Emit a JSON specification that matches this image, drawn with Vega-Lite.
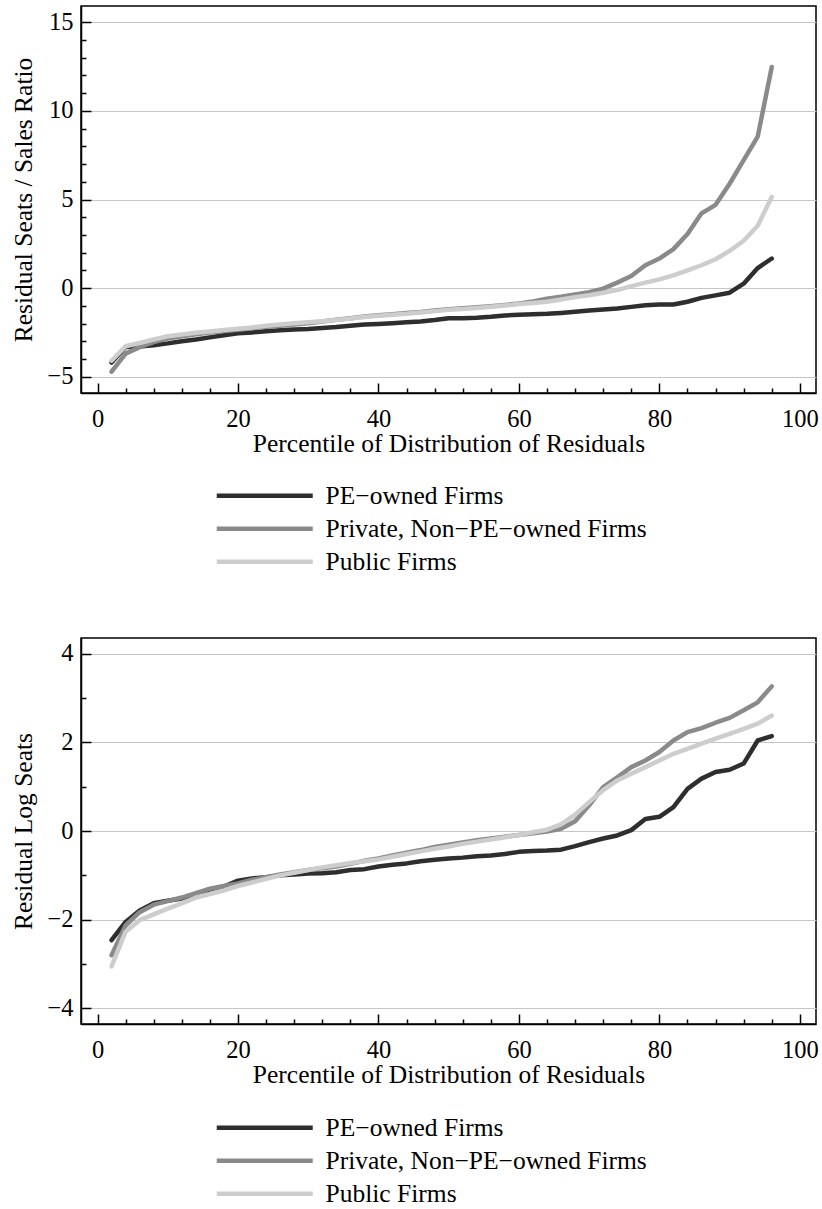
{
  "$schema": "https://vega.github.io/schema/vega-lite/v6.json",
  "padding": {"left": 11, "top": 5, "right": 0, "bottom": 0},
  "background": "white",
  "config": {
    "font": "Liberation Serif",
    "view": {"stroke": "black", "strokeWidth": 1.5},
    "axis": {"labelFont": "Liberation Serif", "titleFont": "Liberation Serif", "labelFontSize": 24.5, "titleFontSize": 25.5, "titleFontWeight": "normal", "labelColor": "black", "titleColor": "black", "domainColor": "black", "domainWidth": 1.5, "tickColor": "black", "tickWidth": 1.5, "gridColor": "#c6c6c6", "gridWidth": 1.2, "labelOverlap": false, "labelFlush": false},
    "legend": {"orient": "none", "title": null, "symbolType": "M-9.6,0H9.6", "symbolSize": 100, "symbolStrokeWidth": 5, "labelFont": "Liberation Serif", "labelFontSize": 25.5, "labelColor": "black", "labelLimit": 0, "rowPadding": 6, "labelOffset": 48},
    "line": {"strokeWidth": 4.5, "strokeCap": "round", "strokeJoin": "round"}
  },
  "resolve": {"scale": {"color": "independent", "x": "independent", "y": "independent"}, "legend": {"color": "independent"}},
  "spacing": 60,
  "datasets": {
    "seats_sales": [
      {"p":2,"g":"PE−owned Firms","v":-4.2},{"p":4,"g":"PE−owned Firms","v":-3.33},{"p":6,"g":"PE−owned Firms","v":-3.3},{"p":8,"g":"PE−owned Firms","v":-3.22},{"p":10,"g":"PE−owned Firms","v":-3.12},{"p":12,"g":"PE−owned Firms","v":-3.0},{"p":14,"g":"PE−owned Firms","v":-2.9},{"p":16,"g":"PE−owned Firms","v":-2.78},{"p":18,"g":"PE−owned Firms","v":-2.66},{"p":20,"g":"PE−owned Firms","v":-2.55},{"p":22,"g":"PE−owned Firms","v":-2.5},{"p":24,"g":"PE−owned Firms","v":-2.44},{"p":26,"g":"PE−owned Firms","v":-2.38},{"p":28,"g":"PE−owned Firms","v":-2.33},{"p":30,"g":"PE−owned Firms","v":-2.31},{"p":32,"g":"PE−owned Firms","v":-2.25},{"p":34,"g":"PE−owned Firms","v":-2.2},{"p":36,"g":"PE−owned Firms","v":-2.13},{"p":38,"g":"PE−owned Firms","v":-2.06},{"p":40,"g":"PE−owned Firms","v":-2.02},{"p":42,"g":"PE−owned Firms","v":-1.98},{"p":44,"g":"PE−owned Firms","v":-1.93},{"p":46,"g":"PE−owned Firms","v":-1.88},{"p":48,"g":"PE−owned Firms","v":-1.8},{"p":50,"g":"PE−owned Firms","v":-1.7},{"p":52,"g":"PE−owned Firms","v":-1.7},{"p":54,"g":"PE−owned Firms","v":-1.67},{"p":56,"g":"PE−owned Firms","v":-1.62},{"p":58,"g":"PE−owned Firms","v":-1.55},{"p":60,"g":"PE−owned Firms","v":-1.5},{"p":62,"g":"PE−owned Firms","v":-1.47},{"p":64,"g":"PE−owned Firms","v":-1.45},{"p":66,"g":"PE−owned Firms","v":-1.4},{"p":68,"g":"PE−owned Firms","v":-1.34},{"p":70,"g":"PE−owned Firms","v":-1.27},{"p":72,"g":"PE−owned Firms","v":-1.21},{"p":74,"g":"PE−owned Firms","v":-1.15},{"p":76,"g":"PE−owned Firms","v":-1.06},{"p":78,"g":"PE−owned Firms","v":-0.97},{"p":80,"g":"PE−owned Firms","v":-0.93},{"p":82,"g":"PE−owned Firms","v":-0.93},{"p":84,"g":"PE−owned Firms","v":-0.77},{"p":86,"g":"PE−owned Firms","v":-0.55},{"p":88,"g":"PE−owned Firms","v":-0.41},{"p":90,"g":"PE−owned Firms","v":-0.26},{"p":92,"g":"PE−owned Firms","v":0.25},{"p":94,"g":"PE−owned Firms","v":1.13},{"p":96,"g":"PE−owned Firms","v":1.67},
      {"p":2,"g":"Private, Non−PE−owned Firms","v":-4.72},{"p":4,"g":"Private, Non−PE−owned Firms","v":-3.7},{"p":6,"g":"Private, Non−PE−owned Firms","v":-3.33},{"p":8,"g":"Private, Non−PE−owned Firms","v":-3.05},{"p":10,"g":"Private, Non−PE−owned Firms","v":-2.85},{"p":12,"g":"Private, Non−PE−owned Firms","v":-2.72},{"p":14,"g":"Private, Non−PE−owned Firms","v":-2.6},{"p":16,"g":"Private, Non−PE−owned Firms","v":-2.5},{"p":18,"g":"Private, Non−PE−owned Firms","v":-2.42},{"p":20,"g":"Private, Non−PE−owned Firms","v":-2.35},{"p":22,"g":"Private, Non−PE−owned Firms","v":-2.27},{"p":24,"g":"Private, Non−PE−owned Firms","v":-2.18},{"p":26,"g":"Private, Non−PE−owned Firms","v":-2.12},{"p":28,"g":"Private, Non−PE−owned Firms","v":-2.05},{"p":30,"g":"Private, Non−PE−owned Firms","v":-1.98},{"p":32,"g":"Private, Non−PE−owned Firms","v":-1.89},{"p":34,"g":"Private, Non−PE−owned Firms","v":-1.79},{"p":36,"g":"Private, Non−PE−owned Firms","v":-1.7},{"p":38,"g":"Private, Non−PE−owned Firms","v":-1.6},{"p":40,"g":"Private, Non−PE−owned Firms","v":-1.53},{"p":42,"g":"Private, Non−PE−owned Firms","v":-1.47},{"p":44,"g":"Private, Non−PE−owned Firms","v":-1.41},{"p":46,"g":"Private, Non−PE−owned Firms","v":-1.35},{"p":48,"g":"Private, Non−PE−owned Firms","v":-1.27},{"p":50,"g":"Private, Non−PE−owned Firms","v":-1.19},{"p":52,"g":"Private, Non−PE−owned Firms","v":-1.14},{"p":54,"g":"Private, Non−PE−owned Firms","v":-1.08},{"p":56,"g":"Private, Non−PE−owned Firms","v":-1.02},{"p":58,"g":"Private, Non−PE−owned Firms","v":-0.95},{"p":60,"g":"Private, Non−PE−owned Firms","v":-0.87},{"p":62,"g":"Private, Non−PE−owned Firms","v":-0.76},{"p":64,"g":"Private, Non−PE−owned Firms","v":-0.6},{"p":66,"g":"Private, Non−PE−owned Firms","v":-0.49},{"p":68,"g":"Private, Non−PE−owned Firms","v":-0.36},{"p":70,"g":"Private, Non−PE−owned Firms","v":-0.23},{"p":72,"g":"Private, Non−PE−owned Firms","v":-0.03},{"p":74,"g":"Private, Non−PE−owned Firms","v":0.31},{"p":76,"g":"Private, Non−PE−owned Firms","v":0.68},{"p":78,"g":"Private, Non−PE−owned Firms","v":1.29},{"p":80,"g":"Private, Non−PE−owned Firms","v":1.67},{"p":82,"g":"Private, Non−PE−owned Firms","v":2.2},{"p":84,"g":"Private, Non−PE−owned Firms","v":3.05},{"p":86,"g":"Private, Non−PE−owned Firms","v":4.22},{"p":88,"g":"Private, Non−PE−owned Firms","v":4.7},{"p":90,"g":"Private, Non−PE−owned Firms","v":5.89},{"p":92,"g":"Private, Non−PE−owned Firms","v":7.22},{"p":94,"g":"Private, Non−PE−owned Firms","v":8.55},{"p":96,"g":"Private, Non−PE−owned Firms","v":12.48},
      {"p":2,"g":"Public Firms","v":-4.1},{"p":4,"g":"Public Firms","v":-3.28},{"p":6,"g":"Public Firms","v":-3.1},{"p":8,"g":"Public Firms","v":-2.9},{"p":10,"g":"Public Firms","v":-2.72},{"p":12,"g":"Public Firms","v":-2.62},{"p":14,"g":"Public Firms","v":-2.52},{"p":16,"g":"Public Firms","v":-2.45},{"p":18,"g":"Public Firms","v":-2.37},{"p":20,"g":"Public Firms","v":-2.3},{"p":22,"g":"Public Firms","v":-2.22},{"p":24,"g":"Public Firms","v":-2.12},{"p":26,"g":"Public Firms","v":-2.05},{"p":28,"g":"Public Firms","v":-1.99},{"p":30,"g":"Public Firms","v":-1.93},{"p":32,"g":"Public Firms","v":-1.87},{"p":34,"g":"Public Firms","v":-1.8},{"p":36,"g":"Public Firms","v":-1.72},{"p":38,"g":"Public Firms","v":-1.63},{"p":40,"g":"Public Firms","v":-1.56},{"p":42,"g":"Public Firms","v":-1.5},{"p":44,"g":"Public Firms","v":-1.45},{"p":46,"g":"Public Firms","v":-1.38},{"p":48,"g":"Public Firms","v":-1.3},{"p":50,"g":"Public Firms","v":-1.22},{"p":52,"g":"Public Firms","v":-1.18},{"p":54,"g":"Public Firms","v":-1.12},{"p":56,"g":"Public Firms","v":-1.05},{"p":58,"g":"Public Firms","v":-0.98},{"p":60,"g":"Public Firms","v":-0.9},{"p":62,"g":"Public Firms","v":-0.84},{"p":64,"g":"Public Firms","v":-0.77},{"p":66,"g":"Public Firms","v":-0.64},{"p":68,"g":"Public Firms","v":-0.51},{"p":70,"g":"Public Firms","v":-0.4},{"p":72,"g":"Public Firms","v":-0.26},{"p":74,"g":"Public Firms","v":-0.11},{"p":76,"g":"Public Firms","v":0.11},{"p":78,"g":"Public Firms","v":0.31},{"p":80,"g":"Public Firms","v":0.49},{"p":82,"g":"Public Firms","v":0.72},{"p":84,"g":"Public Firms","v":1.0},{"p":86,"g":"Public Firms","v":1.29},{"p":88,"g":"Public Firms","v":1.63},{"p":90,"g":"Public Firms","v":2.1},{"p":92,"g":"Public Firms","v":2.67},{"p":94,"g":"Public Firms","v":3.52},{"p":96,"g":"Public Firms","v":5.14}
    ],
    "log_seats": [
      {"p":2,"g":"PE−owned Firms","v":-2.46},{"p":4,"g":"PE−owned Firms","v":-2.05},{"p":6,"g":"PE−owned Firms","v":-1.79},{"p":8,"g":"PE−owned Firms","v":-1.63},{"p":10,"g":"PE−owned Firms","v":-1.57},{"p":12,"g":"PE−owned Firms","v":-1.52},{"p":14,"g":"PE−owned Firms","v":-1.42},{"p":16,"g":"PE−owned Firms","v":-1.32},{"p":18,"g":"PE−owned Firms","v":-1.25},{"p":20,"g":"PE−owned Firms","v":-1.12},{"p":22,"g":"PE−owned Firms","v":-1.07},{"p":24,"g":"PE−owned Firms","v":-1.04},{"p":26,"g":"PE−owned Firms","v":-1.0},{"p":28,"g":"PE−owned Firms","v":-0.98},{"p":30,"g":"PE−owned Firms","v":-0.96},{"p":32,"g":"PE−owned Firms","v":-0.95},{"p":34,"g":"PE−owned Firms","v":-0.93},{"p":36,"g":"PE−owned Firms","v":-0.88},{"p":38,"g":"PE−owned Firms","v":-0.86},{"p":40,"g":"PE−owned Firms","v":-0.8},{"p":42,"g":"PE−owned Firms","v":-0.76},{"p":44,"g":"PE−owned Firms","v":-0.73},{"p":46,"g":"PE−owned Firms","v":-0.68},{"p":48,"g":"PE−owned Firms","v":-0.65},{"p":50,"g":"PE−owned Firms","v":-0.62},{"p":52,"g":"PE−owned Firms","v":-0.6},{"p":54,"g":"PE−owned Firms","v":-0.57},{"p":56,"g":"PE−owned Firms","v":-0.55},{"p":58,"g":"PE−owned Firms","v":-0.52},{"p":60,"g":"PE−owned Firms","v":-0.47},{"p":62,"g":"PE−owned Firms","v":-0.45},{"p":64,"g":"PE−owned Firms","v":-0.44},{"p":66,"g":"PE−owned Firms","v":-0.42},{"p":68,"g":"PE−owned Firms","v":-0.34},{"p":70,"g":"PE−owned Firms","v":-0.25},{"p":72,"g":"PE−owned Firms","v":-0.17},{"p":74,"g":"PE−owned Firms","v":-0.1},{"p":76,"g":"PE−owned Firms","v":0.02},{"p":78,"g":"PE−owned Firms","v":0.27},{"p":80,"g":"PE−owned Firms","v":0.32},{"p":82,"g":"PE−owned Firms","v":0.54},{"p":84,"g":"PE−owned Firms","v":0.95},{"p":86,"g":"PE−owned Firms","v":1.18},{"p":88,"g":"PE−owned Firms","v":1.33},{"p":90,"g":"PE−owned Firms","v":1.38},{"p":92,"g":"PE−owned Firms","v":1.52},{"p":94,"g":"PE−owned Firms","v":2.04},{"p":96,"g":"PE−owned Firms","v":2.14},
      {"p":2,"g":"Private, Non−PE−owned Firms","v":-2.8},{"p":4,"g":"Private, Non−PE−owned Firms","v":-2.13},{"p":6,"g":"Private, Non−PE−owned Firms","v":-1.83},{"p":8,"g":"Private, Non−PE−owned Firms","v":-1.66},{"p":10,"g":"Private, Non−PE−owned Firms","v":-1.58},{"p":12,"g":"Private, Non−PE−owned Firms","v":-1.5},{"p":14,"g":"Private, Non−PE−owned Firms","v":-1.4},{"p":16,"g":"Private, Non−PE−owned Firms","v":-1.3},{"p":18,"g":"Private, Non−PE−owned Firms","v":-1.24},{"p":20,"g":"Private, Non−PE−owned Firms","v":-1.18},{"p":22,"g":"Private, Non−PE−owned Firms","v":-1.1},{"p":24,"g":"Private, Non−PE−owned Firms","v":-1.04},{"p":26,"g":"Private, Non−PE−owned Firms","v":-0.98},{"p":28,"g":"Private, Non−PE−owned Firms","v":-0.93},{"p":30,"g":"Private, Non−PE−owned Firms","v":-0.88},{"p":32,"g":"Private, Non−PE−owned Firms","v":-0.84},{"p":34,"g":"Private, Non−PE−owned Firms","v":-0.8},{"p":36,"g":"Private, Non−PE−owned Firms","v":-0.74},{"p":38,"g":"Private, Non−PE−owned Firms","v":-0.67},{"p":40,"g":"Private, Non−PE−owned Firms","v":-0.62},{"p":42,"g":"Private, Non−PE−owned Firms","v":-0.55},{"p":44,"g":"Private, Non−PE−owned Firms","v":-0.49},{"p":46,"g":"Private, Non−PE−owned Firms","v":-0.43},{"p":48,"g":"Private, Non−PE−owned Firms","v":-0.36},{"p":50,"g":"Private, Non−PE−owned Firms","v":-0.31},{"p":52,"g":"Private, Non−PE−owned Firms","v":-0.26},{"p":54,"g":"Private, Non−PE−owned Firms","v":-0.21},{"p":56,"g":"Private, Non−PE−owned Firms","v":-0.17},{"p":58,"g":"Private, Non−PE−owned Firms","v":-0.13},{"p":60,"g":"Private, Non−PE−owned Firms","v":-0.09},{"p":62,"g":"Private, Non−PE−owned Firms","v":-0.05},{"p":64,"g":"Private, Non−PE−owned Firms","v":-0.01},{"p":66,"g":"Private, Non−PE−owned Firms","v":0.05},{"p":68,"g":"Private, Non−PE−owned Firms","v":0.22},{"p":70,"g":"Private, Non−PE−owned Firms","v":0.58},{"p":72,"g":"Private, Non−PE−owned Firms","v":0.99},{"p":74,"g":"Private, Non−PE−owned Firms","v":1.21},{"p":76,"g":"Private, Non−PE−owned Firms","v":1.44},{"p":78,"g":"Private, Non−PE−owned Firms","v":1.59},{"p":80,"g":"Private, Non−PE−owned Firms","v":1.78},{"p":82,"g":"Private, Non−PE−owned Firms","v":2.04},{"p":84,"g":"Private, Non−PE−owned Firms","v":2.23},{"p":86,"g":"Private, Non−PE−owned Firms","v":2.32},{"p":88,"g":"Private, Non−PE−owned Firms","v":2.44},{"p":90,"g":"Private, Non−PE−owned Firms","v":2.55},{"p":92,"g":"Private, Non−PE−owned Firms","v":2.72},{"p":94,"g":"Private, Non−PE−owned Firms","v":2.9},{"p":96,"g":"Private, Non−PE−owned Firms","v":3.26},
      {"p":2,"g":"Public Firms","v":-3.05},{"p":4,"g":"Public Firms","v":-2.27},{"p":6,"g":"Public Firms","v":-2.01},{"p":8,"g":"Public Firms","v":-1.88},{"p":10,"g":"Public Firms","v":-1.75},{"p":12,"g":"Public Firms","v":-1.63},{"p":14,"g":"Public Firms","v":-1.5},{"p":16,"g":"Public Firms","v":-1.42},{"p":18,"g":"Public Firms","v":-1.34},{"p":20,"g":"Public Firms","v":-1.24},{"p":22,"g":"Public Firms","v":-1.16},{"p":24,"g":"Public Firms","v":-1.08},{"p":26,"g":"Public Firms","v":-1.0},{"p":28,"g":"Public Firms","v":-0.94},{"p":30,"g":"Public Firms","v":-0.88},{"p":32,"g":"Public Firms","v":-0.82},{"p":34,"g":"Public Firms","v":-0.77},{"p":36,"g":"Public Firms","v":-0.72},{"p":38,"g":"Public Firms","v":-0.68},{"p":40,"g":"Public Firms","v":-0.64},{"p":42,"g":"Public Firms","v":-0.58},{"p":44,"g":"Public Firms","v":-0.52},{"p":46,"g":"Public Firms","v":-0.46},{"p":48,"g":"Public Firms","v":-0.4},{"p":50,"g":"Public Firms","v":-0.35},{"p":52,"g":"Public Firms","v":-0.29},{"p":54,"g":"Public Firms","v":-0.24},{"p":56,"g":"Public Firms","v":-0.19},{"p":58,"g":"Public Firms","v":-0.14},{"p":60,"g":"Public Firms","v":-0.09},{"p":62,"g":"Public Firms","v":-0.03},{"p":64,"g":"Public Firms","v":0.03},{"p":66,"g":"Public Firms","v":0.15},{"p":68,"g":"Public Firms","v":0.37},{"p":70,"g":"Public Firms","v":0.65},{"p":72,"g":"Public Firms","v":0.92},{"p":74,"g":"Public Firms","v":1.14},{"p":76,"g":"Public Firms","v":1.29},{"p":78,"g":"Public Firms","v":1.44},{"p":80,"g":"Public Firms","v":1.59},{"p":82,"g":"Public Firms","v":1.74},{"p":84,"g":"Public Firms","v":1.85},{"p":86,"g":"Public Firms","v":1.97},{"p":88,"g":"Public Firms","v":2.08},{"p":90,"g":"Public Firms","v":2.19},{"p":92,"g":"Public Firms","v":2.3},{"p":94,"g":"Public Firms","v":2.42},{"p":96,"g":"Public Firms","v":2.6}
    ]
  },
  "vconcat": [
    {
      "width": 735,
      "height": 387,
      "data": {"name": "seats_sales"},
      "mark": {"type": "line"},
      "encoding": {
        "x": {"field": "p", "type": "quantitative", "scale": {"domain": [-2.35, 102.3], "nice": false, "zero": false},
          "axis": {"title": "Percentile of Distribution of Residuals", "values": [0,4,8,12,16,20,24,28,32,36,40,44,48,52,56,60,64,68,72,76,80,84,88,92,96,100], "labelExpr": "datum.value % 20 === 0 ? datum.label : ''", "tickSize": {"condition": {"test": "datum.value % 20 === 0", "value": -10}, "value": -5}, "grid": false, "labelPadding": 24, "titlePadding": -4}},
        "y": {"field": "v", "type": "quantitative", "scale": {"domain": [-5.92, 15.92], "nice": false, "zero": false},
          "axis": {"title": "Residual Seats / Sales Ratio", "format": "d", "values": [-5,-4,-3,-2,-1,0,1,2,3,4,5,6,7,8,9,10,11,12,13,14,15], "labelExpr": "datum.value % 5 === 0 ? datum.label : ''", "tickSize": {"condition": {"test": "datum.value % 5 === 0", "value": -10}, "value": -5}, "grid": true, "gridOpacity": {"condition": {"test": "datum.value % 5 === 0", "value": 1}, "value": 0}, "labelPadding": 18, "titlePadding": 10}},
        "color": {"field": "g", "type": "nominal", "scale": {"domain": ["PE−owned Firms", "Private, Non−PE−owned Firms", "Public Firms"], "range": ["#2e2e2e", "#8a8a8a", "#cdcdcd"]},
          "legend": {"legendX": 171, "legendY": 477}}
      }
    },
    {
      "width": 735,
      "height": 386,
      "data": {"name": "log_seats"},
      "mark": {"type": "line"},
      "encoding": {
        "x": {"field": "p", "type": "quantitative", "scale": {"domain": [-2.35, 102.3], "nice": false, "zero": false},
          "axis": {"title": "Percentile of Distribution of Residuals", "values": [0,4,8,12,16,20,24,28,32,36,40,44,48,52,56,60,64,68,72,76,80,84,88,92,96,100], "labelExpr": "datum.value % 20 === 0 ? datum.label : ''", "tickSize": {"condition": {"test": "datum.value % 20 === 0", "value": -10}, "value": -5}, "grid": false, "labelPadding": 24, "titlePadding": -4}},
        "y": {"field": "v", "type": "quantitative", "scale": {"domain": [-4.35, 4.35], "nice": false, "zero": false},
          "axis": {"title": "Residual Log Seats", "format": "d", "values": [-4,-3.5,-3,-2.5,-2,-1.5,-1,-0.5,0,0.5,1,1.5,2,2.5,3,3.5,4], "labelExpr": "datum.value % 2 === 0 ? datum.label : ''", "tickSize": {"condition": {"test": "datum.value % 2 === 0", "value": -10}, "value": -5}, "grid": true, "gridOpacity": {"condition": {"test": "datum.value % 2 === 0", "value": 1}, "value": 0}, "labelPadding": 18, "titlePadding": 10}},
        "color": {"field": "g", "type": "nominal", "scale": {"domain": ["PE−owned Firms", "Private, Non−PE−owned Firms", "Public Firms"], "range": ["#2e2e2e", "#8a8a8a", "#cdcdcd"]},
          "legend": {"legendX": 171, "legendY": 477}}
      }
    }
  ]
}
